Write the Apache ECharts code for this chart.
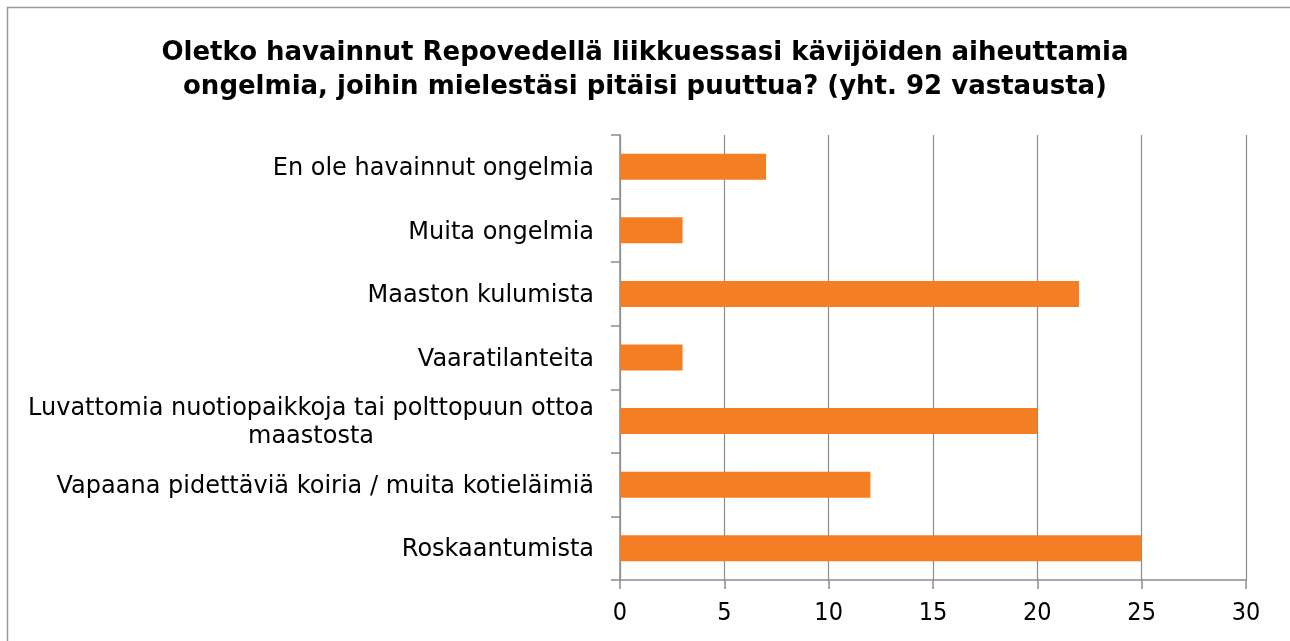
<!DOCTYPE html>
<html>
<head>
<meta charset="utf-8">
<script src="https://cdn.jsdelivr.net/npm/echarts@6/dist/echarts.min.js"></script>
<style>
    html, body { margin: 0; padding: 0; background: #fff; }
    #chart { width: 1290px; height: 641px; }
</style>
</head>
<body>
<div id="chart"></div>
<script>
const titleText = 'Oletko havainnut Repovedellä liikkuessasi kävijöiden aiheuttamia\nongelmia, joihin mielestäsi pitäisi puuttua? (yht. 92 vastausta)'

// bottom to top, as drawn on the axis
const categories = [
    'Roskaantumista',
    'Vapaana pidettäviä koiria / muita kotieläimiä',
    'Luvattomia nuotiopaikkoja tai polttopuun ottoa\nmaastosta',
    'Vaaratilanteita',
    'Maaston kulumista',
    'Muita ongelmia',
    'En ole havainnut ongelmia',
]
const counts = [25, 12, 20, 3, 22, 3, 7]

const xMin = 0
const xMax = 30
const xStep = 5

const fontFamily = '"DejaVu Sans", sans-serif'
const numFont = '"DejaVu Sans Condensed", "DejaVu Sans", sans-serif'
const axisGray = '#8c8c8c'

const chart = echarts.init(document.getElementById('chart'))

chart.setOption({
    animation: false,
    backgroundColor: '#fff',
    title: {
        text: titleText,
        left: 'center',
        top: 31,
        textStyle: {
            fontFamily,
            fontSize: 26,
            fontWeight: 'bold',
            color: '#000',
            lineHeight: 34,
        },
    },
    graphic: [
        {
            type: 'rect',
            shape: { x: 7.5, y: 7.5, width: 1300, height: 700 },
            style: { fill: 'none', stroke: '#9a9a9a', lineWidth: 1.5 },
            silent: true,
        },
    ],
    grid: {
        left: 620,
        right: 44,
        top: 135,
        bottom: 61,
    },
    xAxis: {
        type: 'value',
        min: xMin,
        max: xMax,
        interval: xStep,
        axisLine: { show: true, lineStyle: { color: axisGray, width: 1.5 } },
        axisTick: { show: true, length: 9, lineStyle: { color: axisGray, width: 1.5 } },
        splitLine: { show: true, lineStyle: { color: axisGray, width: 1.2 } },
        axisLabel: {
            color: '#000',
            fontFamily: numFont,
            fontSize: 25,
            margin: 21,
        },
    },
    yAxis: {
        type: 'category',
        data: categories,
        axisLine: { show: true, lineStyle: { color: axisGray, width: 1.5 } },
        axisTick: { show: true, length: 9, lineStyle: { color: axisGray, width: 1.5 } },
        axisLabel: {
            color: '#000',
            fontFamily,
            fontSize: 24,
            margin: 26,
            lineHeight: 28,
            formatter(value) {
                return value.split('\n').map(line => `{c|${line}}`).join('\n')
            },
            rich: {
                c: {
                    align: 'center',
                    color: '#000',
                    fontFamily,
                    fontSize: 24,
                    lineHeight: 28,
                    padding: [4, 0, 0, 0],
                },
            },
        },
    },
    series: [
        {
            type: 'bar',
            data: counts,
            barWidth: 26,
            itemStyle: { color: '#f47e23' },
        },
    ],
})
</script>
</body>
</html>
